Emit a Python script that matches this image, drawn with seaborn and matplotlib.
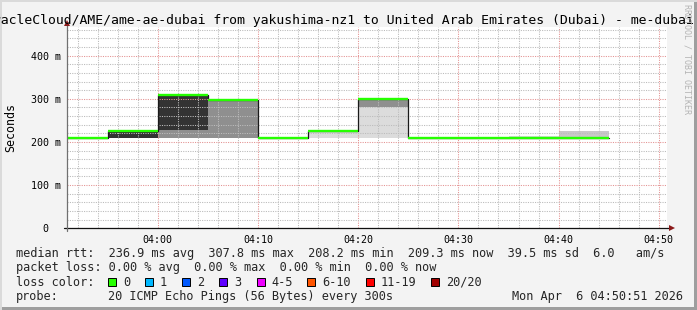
import matplotlib
matplotlib.use("Agg")
import matplotlib.pyplot as plt
import seaborn as sns
import pandas as pd
from matplotlib.patches import Rectangle
from matplotlib.lines import Line2D
from matplotlib.ticker import MultipleLocator, FixedLocator

# ---------------- data ----------------
# 5-minute slots, minutes after 03:50
slot_start_min = [0, 5, 10, 15, 20, 25, 30, 35, 40, 45, 50]
median_rtt_ms = [208.5, 225.0, 307.8, 296.5, 208.2, 226.0, 299.5, 208.6, 208.8, 208.8, 209.3]
slot_len_min = 5

# smoke bands: slot index, low, high, shade
smoke_slot = [1, 2, 2, 3, 5, 6, 6, 9, 10]
smoke_low_ms = [208.5, 209.5, 227.0, 209.5, 208.2, 208.5, 281.0, 208.8, 208.8]
smoke_high_ms = [225.0, 227.0, 307.8, 295.0, 225.0, 281.0, 299.5, 214.0, 226.0]
smoke_shade = ["dark", "mid", "dark", "mid", "light", "light", "mid", "faint", "pale"]

x_tick_pos = [10, 20, 30, 40, 50, 60]
x_tick_labels = ["04:00", "04:10", "04:20", "04:30", "04:40", "04:50"]
y_tick_pos = [0, 100, 200, 300, 400]
y_tick_labels = ["0  ", "100 m", "200 m", "300 m", "400 m"]

title = "OracleCloud/AME/ame-ae-dubai from yakushima-nz1 to United Arab Emirates (Dubai) - me-dubai"
legend_rows = [
    "median rtt:  236.9 ms avg  307.8 ms max  208.2 ms min  209.3 ms now  39.5 ms sd  6.0   am/s",
    "packet loss: 0.00 % avg  0.00 % max  0.00 % min  0.00 % now",
]
loss_labels = ["0", "1", "2", "3", "4-5", "6-10", "11-19", "20/20"]
loss_colors = ["#26ff00", "#00b8ff", "#0059ff", "#5e00ff", "#ee00ff", "#ff5500", "#ff0000", "#a10000"]
probe_text = "20 ICMP Echo Pings (56 Bytes) every 300s"
stamp_text = "Mon Apr  6 04:50:51 2026"

shade_colors = {"dark": "#333333", "mid": "#8f8f8f", "light": "#dcdcdc",
                "faint": "#d8d8d8", "pale": "#c8c8c8"}

# ---------------- figure ----------------
W, H = 697, 310
sns.set_theme(style="white")
plt.rcParams["font.family"] = ["DejaVu Sans Mono", "DejaVu Sans"]
plt.rcParams["lines.scale_dashes"] = False
fig = plt.figure(figsize=(W / 100, H / 100), dpi=100)
fig.patch.set_facecolor("#f3f3f3")

def fx(x):
    return x / W

def fy(y):
    return 1 - y / H

L, R, T, B = 66.5, 667.3, 26.7, 228.3
ax = fig.add_axes([fx(L), fy(B), (R - L) / W, (B - T) / H])
ax.set_facecolor("white")
XMIN, XMAX = 0.88, 60.85
YMAX = 467
ax.set_xlim(XMIN, XMAX)
ax.set_ylim(0, YMAX)

# smoke
for s, lo, hi, sh in zip(smoke_slot, smoke_low_ms, smoke_high_ms, smoke_shade):
    ax.bar(slot_start_min[s], hi - lo, bottom=lo, width=slot_len_min, align="edge",
           color=shade_colors[sh], linewidth=0, zorder=1)

# median step (black verticals) via seaborn
step_df = pd.DataFrame({
    "t": slot_start_min + [slot_start_min[-1] + slot_len_min],
    "rtt": median_rtt_ms + [median_rtt_ms[-1]],
})
sns.lineplot(data=step_df, x="t", y="rtt", drawstyle="steps-post", color="#1a1a1a",
             linewidth=0.9, estimator=None, sort=False, ax=ax, zorder=3)
# green median segments
ax.hlines(median_rtt_ms, slot_start_min,
          [s + slot_len_min for s in slot_start_min],
          colors=loss_colors[0], linewidth=1.7, zorder=4)

# grid
ax.xaxis.set_major_locator(FixedLocator(x_tick_pos))
ax.xaxis.set_minor_locator(MultipleLocator(2))
ax.yaxis.set_major_locator(FixedLocator(y_tick_pos))
ax.yaxis.set_minor_locator(MultipleLocator(20))
ax.set_axisbelow(False)
ax.grid(which="minor", color="#bcbcbc", linestyle=(0, (0.8, 0.9)), linewidth=0.75)
ax.grid(which="major", color="#e49595", linestyle=(0, (0.8, 0.9)), linewidth=0.75)
ax.set_xticklabels(x_tick_labels)
ax.set_yticklabels(y_tick_labels)
ax.tick_params(axis="both", which="major", direction="out", length=2.5, width=0.75,
               color="#d08080", labelsize=7.2, labelcolor="#000000", pad=1.5)
ax.tick_params(axis="x", which="major", pad=2)
ax.tick_params(axis="both", which="minor", direction="out", length=1.5, width=0.7,
               color="#c0c0c0")
ax.set_xlabel("")
ax.set_ylabel("")
for sp in ["top", "right", "left", "bottom"]:
    ax.spines[sp].set_visible(False)

# axes lines with arrows
fig.add_artist(Line2D([fx(L - 3), fx(671)], [fy(B), fy(B)], color="#111111", lw=0.9))
fig.add_artist(Line2D([fx(L), fx(L)], [fy(B + 3), fy(24)], color="#707070", lw=0.9))
fig.add_artist(Line2D([fx(672)], [fy(B)], marker=">", markersize=4.5, color="#8b1a1a",
                      markeredgewidth=0))
fig.add_artist(Line2D([fx(L)], [fy(23)], marker="^", markersize=4.5, color="#8b1a1a",
                      markeredgewidth=0))

# title & labels
fig.text(fx(-15.1), fy(24), title, fontsize=9.45, ha="left", va="baseline", color="#000000")
fig.text(fx(10.7), fy(127.5), "Seconds", fontsize=8.4, rotation=90, ha="center",
         va="center", color="#000000")
fig.text(fx(687), fy(4), "RRDTOOL / TOBI OETIKER", fontsize=6, rotation=270,
         ha="center", va="top", color="#b4b4b4")

# legend rows
LEG = 8.55
fig.text(fx(16), fy(254), legend_rows[0], fontsize=LEG, ha="left", va="center")
fig.text(fx(16), fy(268), legend_rows[1], fontsize=LEG, ha="left", va="center")
fig.text(fx(16), fy(282), "loss color:", fontsize=LEG, ha="left", va="center")
box_x = [108.3, 145.0, 182.3, 219.3, 256.7, 307.3, 365.7, 431.0]
for bx, lab, col in zip(box_x, loss_labels, loss_colors):
    fig.add_artist(Rectangle((fx(bx), fy(286)), 8 / W, 8 / H, facecolor=col,
                             edgecolor="#000000", linewidth=0.7))
    fig.text(fx(bx + 15), fy(282), lab, fontsize=LEG, ha="left", va="center")
fig.text(fx(16), fy(296.5), "probe:", fontsize=LEG, ha="left", va="center")
fig.text(fx(107.6), fy(296.5), probe_text, fontsize=LEG, ha="left", va="center")
fig.text(fx(683), fy(296.5), stamp_text, fontsize=LEG, ha="right", va="center")

# frame
fig.add_artist(Rectangle((fx(694), 0), 3 / W, 1, facecolor="#9e9e9e", linewidth=0))
fig.add_artist(Rectangle((0, 0), 1, 3 / H, facecolor="#9e9e9e", linewidth=0))
fig.add_artist(Rectangle((0, fy(2)), 1, 2 / H, facecolor="#dadada", linewidth=0))
fig.add_artist(Rectangle((0, 0), 2 / W, 1, facecolor="#dadada", linewidth=0))

fig.savefig("out.png", dpi=100, facecolor=fig.get_facecolor())
